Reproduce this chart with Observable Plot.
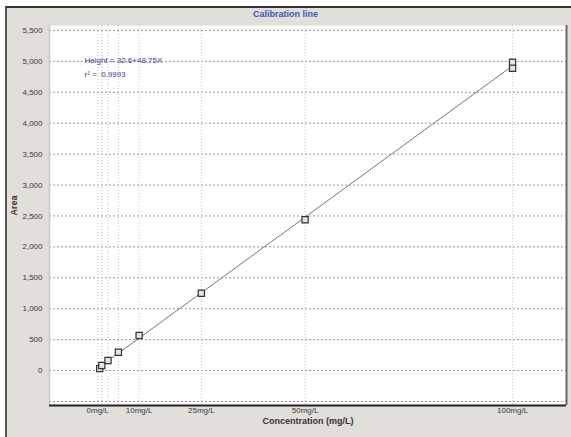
<!DOCTYPE html>
<html>
<head>
<meta charset="utf-8">
<script src="https://cdn.jsdelivr.net/npm/d3@7"></script>
<script src="https://cdn.jsdelivr.net/npm/@observablehq/plot@0.6"></script>
<style>
  html, body { margin: 0; padding: 0; background: #ffffff; }
  #wrap { position: relative; width: 571px; height: 437px; overflow: hidden; font-family: "Liberation Sans", Arial, sans-serif; }
  #panel { position: absolute; left: 5px; top: 6px; right: 0; bottom: 0; background: #e2dfda; border-left: 2px solid #555; border-top: 2px solid #333; }
  #title { position: absolute; left: 0; width: 571px; top: 9px; text-align: center; font-size: 9px; font-weight: bold; color: #4057b8; }
  #chart { position: absolute; left: 0; top: 0; }
  #chart svg { background: transparent !important; }
</style>
</head>
<body>
<div id="wrap">
  <div id="panel"></div>
  <div id="title">Calibration line</div>
  <div id="chart"></div>
</div>
<script>
// Data
const concentration = [0.5, 1, 2.5, 5, 10, 25, 50, 100, 100];
const area = [32, 81, 162, 296, 566, 1251, 2439, 4987, 4887];
const gridConcentrations = [0, 1, 2.5, 5, 10, 25, 50, 100];
const xTickValues = [0, 10, 25, 50, 100];
const xTickLabels = ["0mg/L", "10mg/L", "25mg/L", "50mg/L", "100mg/L"];
const yTickValues = [0, 500, 1000, 1500, 2000, 2500, 3000, 3500, 4000, 4500, 5000, 5500];
const yGridValues = [-500, 0, 500, 1000, 1500, 2000, 2500, 3000, 3500, 4000, 4500, 5000, 5500];
const equationLines = ["Height = 32.6+48.75X", "r\u00B2 =  0.9993"];
const xLabel = "Concentration (mg/L)";
const yLabel = "Area";

const xDomain = [-11.6, 113.0];
const yDomain = [-565, 5580];

const points = concentration.map((c, i) => ({c, a: area[i]}));
const xLabelMap = new Map(xTickValues.map((v, i) => [v, xTickLabels[i]]));

const chart = Plot.plot({
  width: 571,
  height: 437,
  marginLeft: 49,
  marginRight: 5,
  marginTop: 25,
  marginBottom: 32,
  style: {fontFamily: "'Liberation Sans', Arial, sans-serif", background: "transparent"},
  x: {domain: xDomain},
  y: {domain: yDomain},
  marks: [
    Plot.frame({fill: "white", stroke: null}),
    Plot.ruleY(yGridValues, {stroke: "#9a9a9a", strokeDasharray: "2,2"}),
    Plot.ruleX(gridConcentrations, {stroke: "#c4c4c4", strokeDasharray: "1,2"}),
    Plot.ruleX([xDomain[0]], {stroke: "#c8c8c8", strokeWidth: 1.5}),
    Plot.ruleX([xDomain[1]], {stroke: "#6a6a6a", strokeWidth: 2}),
    Plot.ruleY([yDomain[0]], {stroke: "#222", strokeWidth: 2}),
    Plot.axisY({ticks: yTickValues, tickFormat: d3.format(","), tickSize: 0, tickPadding: 7, fontSize: 8, color: "#3a3a3a", label: null}),
    Plot.axisX({ticks: xTickValues, tickFormat: d => xLabelMap.get(d), tickSize: 0, tickPadding: 2, fontSize: 8, color: "#3a3a3a", label: null}),
    Plot.linearRegressionY(points, {x: "c", y: "a", ci: 0, stroke: "#777", strokeWidth: 1}),
    Plot.dot(points, {x: "c", y: "a", symbol: "square", r: 3.5, stroke: "#333", strokeWidth: 1.2, fill: "#e4e4e4"}),
    Plot.text([equationLines.join("\n")], {frameAnchor: "top-left", dx: 35, dy: 28, lineAnchor: "top", textAnchor: "start", lineHeight: 1.75, fontSize: 8, fill: "#3c3c9c"}),
    Plot.text([yLabel], {frameAnchor: "left", rotate: -90, dx: -35, fontWeight: "bold", fontSize: 9, fill: "#333"}),
    Plot.text([xLabel], {frameAnchor: "bottom", dy: 16, lineAnchor: "middle", fontWeight: "bold", fontSize: 9, fill: "#333"})
  ]
});
document.getElementById("chart").appendChild(chart);
</script>
</body>
</html>
